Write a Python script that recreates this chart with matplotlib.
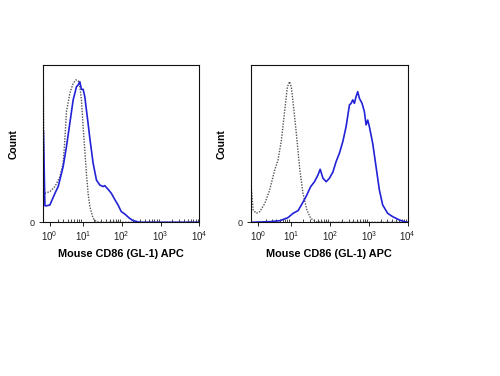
import numpy as np
import matplotlib
matplotlib.use('Agg')
import matplotlib.pyplot as plt
from matplotlib.ticker import FixedLocator, NullFormatter

plt.rcParams['font.family'] = ['Liberation Sans', 'DejaVu Sans']
plt.rcParams['mathtext.fontset'] = 'custom'
plt.rcParams['mathtext.rm'] = 'Liberation Sans'
plt.rcParams['mathtext.it'] = 'Liberation Sans'

#left panel: isotype (gray dotted) and stained (blue)
left_gray_x = [0.33, 0.335, 0.48, 1.04, 1.64, 2.37, 2.96, 3.30, 3.67, 4.54, 5.58, 6.56,
               7.56, 8.35, 9.22, 10.2, 11.25, 12.4, 13.7, 15.2, 18.5, 22.5, 27.4, 10000]
left_gray_y = [0, 130, 18.4, 19.5, 22.7, 29, 37.5, 52.3, 70.3, 82, 88.3, 90.5,
               90, 86.2, 77.8, 60.8, 46, 31.1, 18.4, 10, 2.5, 0.4, 0, 0]

left_blue_x = [0.33, 0.34, 0.40, 0.54, 0.70, 1.04, 1.64, 2.10, 2.96, 3.67, 4.54, 5.58, 6.18,
               6.84, 7.56, 8.35, 9.22, 10.2, 11.25, 12.4, 13.7, 15.2, 18.5, 22.5, 27.4,
               33.3, 36.8, 44.7, 54.5, 66.3, 81, 98, 120, 161, 196, 290, 10000]
left_blue_y = [0, 60.8, 58, 10.5, 10.5, 11, 18.4, 22.7, 35.4, 48.1, 62.9, 77.8, 82,
               86.2, 87.3, 89.4, 84.5, 84.5, 79.9, 71.4, 62.9, 53.4, 37.5, 26.9, 23.7,
               22.7, 23.3, 21, 18.4, 14.6, 11, 6.8, 5.3, 2.5, 1.1, 0, 0]

#right panel
right_gray_x = [0.33, 0.35, 0.53, 0.85, 1.21, 1.85, 2.62, 3.63, 4.5, 5.53, 6.78, 7.95,
                9.1, 10.1, 11.6, 13.6, 16.5, 20.2, 25.5, 32, 44, 66, 10000]
right_gray_y = [0, 22.7, 7.8, 5.7, 6.8, 12, 20.6, 33, 39.6, 52, 71, 86,
                89.4, 86, 73, 56.6, 35, 18.4, 7.8, 2.5, 0.4, 0, 0]

right_blue_x = [0.33, 2.62, 5.05, 8.3, 11.2, 15.1, 18.4, 24.2, 32, 40, 49, 56, 66, 80,
                97, 119, 144, 175, 214, 260, 317, 350, 385, 425, 470, 518, 571, 669,
                768, 848, 935, 1031, 1256, 1530, 1862, 2267, 3044, 4086, 6053, 8130, 10000]
right_blue_y = [0, 0.4, 1, 3, 5.7, 7.4, 11, 16.3, 22.7, 25.8, 30, 33.7, 28, 25.8,
                28, 32, 38.6, 43.9, 51.3, 60.8, 74.6, 75.6, 77.8, 75.6, 80, 83, 78.8, 75.6,
                70.3, 61.9, 65, 60.8, 50.2, 35.4, 20.6, 11, 5.7, 3.6, 1.5, 0.4, 0]

major_ticks = [1, 10, 100, 1000, 10000]
major_labels = ['$10^{0}$', '$10^{1}$', '$10^{2}$', '$10^{3}$', '$10^{4}$']
minor_ticks = [m * 10 ** d for d in range(4) for m in range(2, 10)]

xlabel_text = 'Mouse CD86 (GL-1) APC'
ylabel_text = 'Count'

blue = '#2222d8'
gray = '#555555'

fig = plt.figure(figsize=(5, 3.76), dpi=100)

panels = [
    (0.0853, left_gray_x, left_gray_y, left_blue_x, left_blue_y),
    (0.502, right_gray_x, right_gray_y, right_blue_x, right_blue_y),
]

for left, gx, gy, bx, by in panels:

    ax = fig.add_axes([left, 0.4088, 0.3135, 0.4184])

    #gray dotted control, blue stained
    ax.plot(gx, gy, color=gray, linestyle=(0, (1, 1)), linewidth=1.0)
    ax.plot(bx, by, color=blue, linewidth=1.2)

    ax.set_xscale('asinh', linear_width=1.5)
    ax.set_xlim(0.33, 10000)
    ax.set_ylim(0, 100)

    ax.xaxis.set_major_locator(FixedLocator(major_ticks))
    ax.set_xticklabels(major_labels)
    ax.xaxis.set_minor_locator(FixedLocator(minor_ticks))
    ax.xaxis.set_minor_formatter(NullFormatter())
    ax.tick_params(axis='x', which='major', direction='out', length=3, width=0.7,
                   labelsize=7, pad=2, colors='#222222')
    ax.tick_params(axis='x', which='minor', direction='in', length=2, width=0.5)

    ax.set_yticks([0])
    ax.set_yticklabels(['0'])
    ax.tick_params(axis='y', direction='out', length=3, width=0.7, labelsize=6.5,
                   pad=3, colors='#222222')

    for sp in ax.spines.values():
        sp.set_linewidth(0.8)
        sp.set_color('#111111')

    ax.set_xlabel(xlabel_text, fontsize=7.8, fontweight='bold', labelpad=4)
    ax.set_ylabel(ylabel_text, fontsize=7.5, fontweight='bold', labelpad=8)

fig.savefig('out.png', dpi=100)
plt.close()
